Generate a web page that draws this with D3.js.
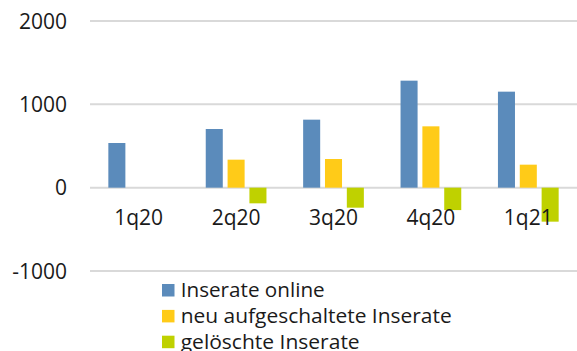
<!DOCTYPE html>
<html>
<head>
<meta charset="utf-8">
<script src="https://cdn.jsdelivr.net/npm/d3@7"></script>
<style>
  html, body { margin: 0; padding: 0; background: #fff; overflow: hidden; }
  svg { display: block; }
  text { font-family: "Open Sans", "Noto Sans", sans-serif; fill: #1a1a1a; }
</style>
</head>
<body>
<svg id="chart" width="577" height="351"></svg>
<script>
// Quarterly listing figures
const quarters = ["1q20", "2q20", "3q20", "4q20", "1q21"];
const seriesNames = ["Inserate online", "neu aufgeschaltete Inserate", "gelöschte Inserate"];
const seriesColors = ["#5b8bbb", "#ffcb18", "#bfd100"];
const inserateOnline = [536, 704, 816, 1284, 1152];
const neuAufgeschaltet = [null, 336, 344, 736, 276];
const geloescht = [null, -188, -240, -269, -408];
const yTicks = [-1000, 0, 1000, 2000];

const seriesValues = [inserateOnline, neuAufgeschaltet, geloescht];

const svg = d3.select("#chart");
const plot = { left: 90, right: 577, top: 21, bottom: 271 };

const y = d3.scaleLinear().domain([-1000, 2000]).range([plot.bottom, plot.top]);
const x = d3.scaleBand().domain(quarters).range([plot.left, plot.right]).paddingInner(0).paddingOuter(0);
const xInner = d3.scaleBand().domain(d3.range(seriesNames.length))
  .range([0, x.bandwidth()]).paddingInner(0.22).paddingOuter(0.84);

// Horizontal gridlines
svg.append("g").selectAll("line").data(yTicks).join("line")
  .attr("x1", plot.left).attr("x2", plot.right)
  .attr("y1", d => y(d)).attr("y2", d => y(d))
  .attr("stroke", "#d9d9d9").attr("stroke-width", 2);

// Y tick labels
svg.append("g").selectAll("text").data(yTicks).join("text")
  .attr("x", 67).attr("y", d => y(d))
  .attr("dy", "0.36em")
  .attr("text-anchor", "end")
  .style("font-size", "21px")
  .text(d => d);

// Bars
const groups = svg.append("g").selectAll("g").data(quarters).join("g")
  .attr("transform", d => `translate(${x(d)},0)`);
groups.selectAll("rect")
  .data((q, qi) => seriesValues.map((vals, si) => ({ si, v: vals[qi] })).filter(d => d.v != null))
  .join("rect")
  .attr("x", d => xInner(d.si))
  .attr("width", xInner.bandwidth())
  .attr("y", d => y(Math.max(0, d.v)))
  .attr("height", d => Math.abs(y(d.v) - y(0)))
  .attr("fill", d => seriesColors[d.si]);

// Category labels centred under each group, just below the zero line
svg.append("g").selectAll("text").data(quarters).join("text")
  .attr("x", d => x(d) + x.bandwidth() / 2).attr("y", 225)
  .attr("text-anchor", "middle")
  .style("font-size", "21px")
  .text(d => d);

// Legend
const legend = svg.append("g").attr("transform", "translate(162,0)");
const rowY = [290.3, 316.2, 342];
const legendWidths = [144, 271, 179];
seriesNames.forEach((name, i) => {
  legend.append("rect")
    .attr("x", 0).attr("y", rowY[i] - 6.3)
    .attr("width", 12.5).attr("height", 12.5)
    .attr("fill", seriesColors[i]);
  legend.append("text")
    .attr("x", 18.7).attr("y", rowY[i] + 6.5)
    .style("font-size", "20px")
    .attr("textLength", legendWidths[i])
    .attr("lengthAdjust", "spacingAndGlyphs")
    .text(name);
});
</script>
</body>
</html>
